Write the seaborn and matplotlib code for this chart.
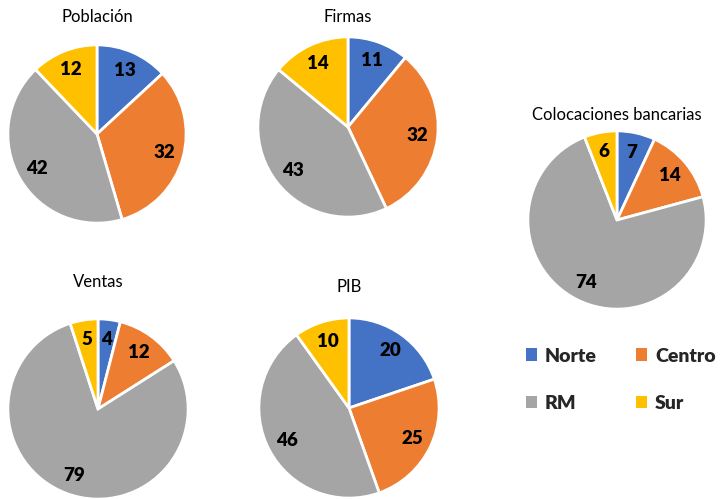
import matplotlib
matplotlib.use("Agg")
import matplotlib.pyplot as plt
from matplotlib.patches import Patch
import seaborn as sns

sns.set_theme(style="white")
plt.rcParams["font.family"] = ["Lato", "DejaVu Sans"]

regions = ["Norte", "Centro", "RM", "Sur"]
colors = ["#4472C4", "#ED7D31", "#A5A5A5", "#FFC000"]

titles = ["Población", "Firmas", "Colocaciones bancarias", "Ventas", "PIB"]
poblacion = [13, 32, 42, 12]
firmas = [11, 32, 43, 14]
colocaciones = [7, 14, 74, 6]
ventas = [4, 12, 79, 5]
pib = [20, 25, 46, 10]
series = [poblacion, firmas, colocaciones, ventas, pib]

W, H = 721, 499
# pie centre (px), radius (px), title offset (px above centre)
layout = [
    (97, 134, 90, 117),
    (348, 127, 91, 110),
    (617, 220, 90, 105),
    (98, 409, 91, 127),
    (349, 408, 91, 121),
]

fig = plt.figure(figsize=(W / 100, H / 100), dpi=100)
fig.patch.set_facecolor("white")

for title, vals, (cx, cy, r, toff) in zip(titles, series, layout):
    ax = fig.add_axes([(cx - r) / W, 1 - (cy + r) / H, 2 * r / W, 2 * r / H])
    total = sum(vals)
    ax.pie(
        vals,
        colors=colors,
        startangle=90,
        counterclock=False,
        autopct=lambda p, t=total: f"{round(p * t / 100):d}",
        pctdistance=0.78,
        radius=1,
        wedgeprops=dict(edgecolor="white", linewidth=2),
        textprops=dict(fontsize=13.5, fontweight="heavy", color="black"),
    )
    ax.set_xlim(-1.01, 1.01)
    ax.set_ylim(-1.01, 1.01)
    ax.set_aspect("equal")
    ax.axis("off")
    fig.text(cx / W, 1 - (cy - toff) / H, title, ha="center", va="center",
             fontsize=12, color="black")

# legend filled column by column, so order it to read row by row
order = [0, 2, 1, 3]
handles = [Patch(facecolor=colors[i], edgecolor="none") for i in order]
labels = [regions[i] for i in order]
fig.legend(
    handles, labels,
    loc="upper left", bbox_to_anchor=(508 / W, 1 - 330 / H),
    ncol=2, frameon=False,
    prop=dict(size=14, weight="heavy"),
    handlelength=0.6, handleheight=0.6, handletextpad=0.4,
    columnspacing=2.0, labelspacing=1.55,
)

fig.savefig("out.png", dpi=100, facecolor="white")
